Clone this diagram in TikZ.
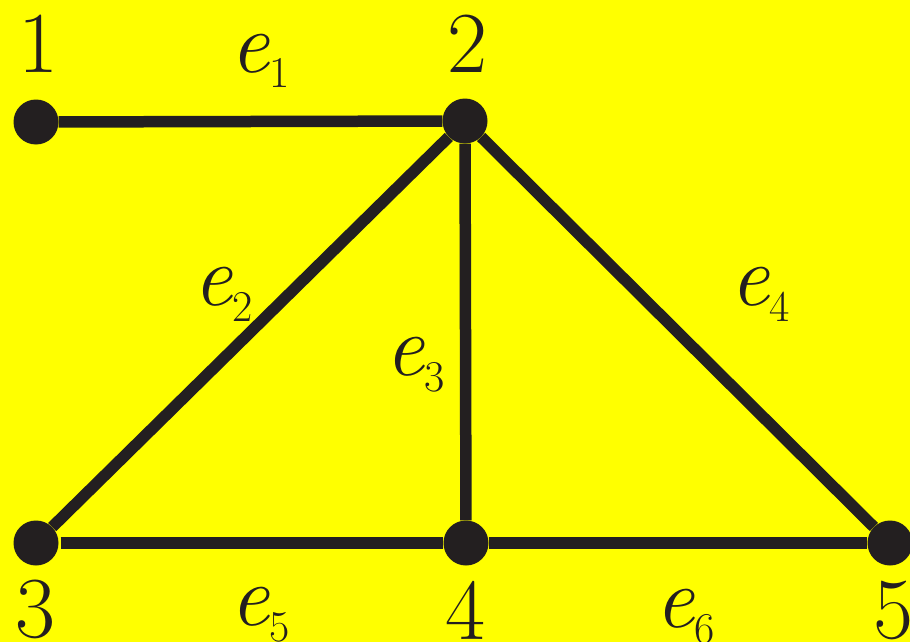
\documentclass[tikz,border=0pt]{standalone}
\usetikzlibrary{positioning}
\definecolor{bgyellow}{HTML}{FFFF00}
\definecolor{inkblack}{HTML}{231F20}
\newcommand{\elab}[1]{\textit{e}\raisebox{-16pt}{\fontsize{44}{44}\selectfont #1}}

\begin{document}
\begin{tikzpicture}[x=1pt, y=-1pt,
    vertex/.style={circle, fill=inkblack, inner sep=0pt, minimum size=45pt},
    edge/.style={line width=11.5pt, draw=inkblack},
    txt/.style={inner sep=0pt, text=inkblack, font=\fontsize{87}{90}\selectfont}]
            \fill[bgyellow] (0,0) rectangle (910,642);
            \useasboundingbox (0,0) rectangle (910,642);
            % vertices
            \node[vertex] (v1) at (36,122) {};
            \node[vertex] (v2) at (465,121) {};
            \node[vertex] (v3) at (36,543) {};
            \node[vertex] (v4) at (466,543) {};
            \node[vertex] (v5) at (890,543) {};
            % edges
            \draw[edge] (v1) -- (v2);
            \draw[edge] (v2) -- (v3);
            \draw[edge] (v2) -- (v4);
            \draw[edge] (v2) -- (v5);
            \draw[edge, shorten <=2pt] (v3) -- (v4);
            \draw[edge] (v4) -- (v5);
            % vertex numbers
            \node[txt, anchor=base] (n1) at (38,72) {1};
            \node[txt, anchor=base] (n2) at (467,73) {2};
            \node[txt, anchor=base] (n3) at (35,637) {3};
            \node[txt, anchor=base] (n4) at (465,639) {4};
            \node[txt, anchor=base] (n5) at (893,638) {5};
            % edge names
            \node[txt, anchor=base west] (l1) at (230,72) {\elab{1}};
            \node[txt, anchor=base west] (l2) at (193,305) {\elab{2}};
            \node[txt, anchor=base west] (l3) at (385,375) {\elab{3}};
            \node[txt, anchor=base west] (l4) at (730,305) {\elab{4}};
            \node[txt, anchor=base west] (l5) at (230,625) {\elab{5}};
            \node[txt, anchor=base west] (l6) at (655,627) {\elab{6}};
        \end{tikzpicture}
\end{document}
